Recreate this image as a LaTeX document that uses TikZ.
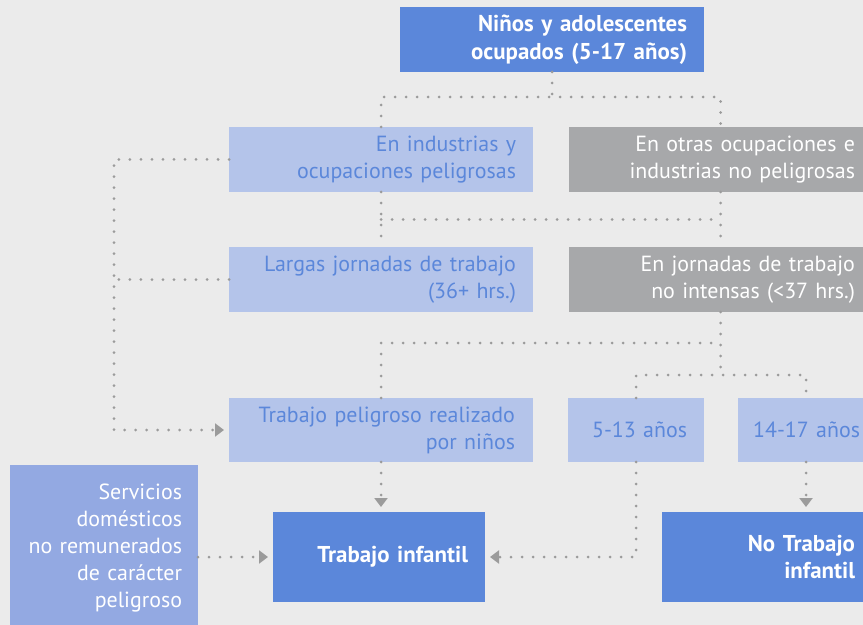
\documentclass[tikz,border=0pt]{standalone}
\usepackage{fontspec}
\setmainfont{PT Sans}
\usetikzlibrary{arrows.meta, calc, positioning}
\definecolor{fondo}{HTML}{EBEBEB}
\definecolor{azul}{HTML}{5B87DA}
\definecolor{celeste}{HTML}{B4C4EA}
\definecolor{grisbox}{HTML}{A7A8AA}
\definecolor{lila}{HTML}{93A9E2}
\definecolor{punto}{HTML}{9B9B9B}
\tikzset{
  box/.style={rectangle, inner xsep=17bp, inner ysep=0pt, outer sep=0pt, align=right, font=\fontsize{22}{27}\selectfont, minimum height=65bp},
  clara/.style={box, fill=celeste, text=azul},
  oscura/.style={box, fill=azul, text=white, font=\fontsize{23}{28}\selectfont\bfseries},
  neutra/.style={box, fill=grisbox, text=white},
  domest/.style={box, fill=lila, text=white},
  dotline/.style={draw=punto, line width=3bp, line cap=round, dash pattern=on 0pt off 11bp},
  arrowline/.style={dotline, -{Triangle[width=13bp,length=9bp]}, shorten >=5bp}
}
\begin{document}
\begin{tikzpicture}[x=1bp, y=-1bp]
  \clip (0,0) rectangle (863,625);
  \fill[fondo] (0,0) rectangle (863,625);

  \node[oscura, text width=270bp] (ninos) at (552,39.5) {Niños y adolescentes\\ocupados (5-17 años)};
  \node[clara, text width=270bp] (peligrosas) at (381,159.5) {En industrias y\\ocupaciones peligrosas};
  \node[neutra, text width=269bp] (nopeligrosas) at (720.5,159.5) {En otras ocupaciones e\\industrias no peligrosas};
  \node[clara, text width=270bp] (largas) at (381,279.5) {Largas jornadas de trabajo\\(36+ hrs.)};
  \node[neutra, text width=269bp] (nointensas) at (720.5,279.5) {En jornadas de trabajo\\no intensas (<37 hrs.)};
  \node[clara, text width=268bp, inner xsep=18bp, minimum height=64bp] (tpeligroso) at (381,430) {Trabajo peligroso realizado\\por niños};
  \node[clara, text width=102bp, minimum height=64bp] (edad1) at (636,430) {5-13 años};
  \node[clara, text width=108bp, inner xsep=14bp, minimum height=64bp] (edad2) at (806,430) {14-17 años};
  \node[domest, text width=156bp, inner xsep=16bp, minimum height=166bp] (domesticos) at (104,548) {Servicios\\domésticos\\no remunerados\\de carácter\\peligroso};
  \node[oscura, text width=178bp, minimum height=90bp] (infantil) at (379,557) {Trabajo infantil};
  \node[oscura, text width=176bp, minimum height=90bp] (noinfantil) at (767,557) {No Trabajo\\infantil};

  \draw[dotline] (ninos.south) -- ++(0,25) coordinate (r1);
  \draw[dotline] (peligrosas.north) |- (r1) -| (nopeligrosas.north);
  \draw[dotline] (peligrosas.south) -- (largas.north);
  \draw[dotline] (nopeligrosas.south) -- (nointensas.north);
  \draw[dotline] ($(peligrosas.south)!0.5!(largas.north)$) -- ($(nopeligrosas.south)!0.5!(nointensas.north)$);

  \coordinate (lft) at (114,0);
  \draw[arrowline] (peligrosas.west) -- (peligrosas.west -| lft) |- (tpeligroso.west);
  \draw[dotline] (largas.west) -- (largas.west -| lft);

  \draw[dotline] (nointensas.south) -- ++(0,31) coordinate (r2) -- ++(0,32) coordinate (r3);
  \draw[dotline] (tpeligroso.north) |- (r2);
  \draw[dotline] (edad1.north) |- (r3) -| (edad2.north);

  \draw[arrowline] (tpeligroso.south) -- (tpeligroso.south |- infantil.north);
  \draw[arrowline] (domesticos.east |- infantil.west) -- (infantil.west);
  \draw[arrowline] (edad1.south) |- (infantil.east);
  \draw[arrowline] (edad2.south) -- (edad2.south |- noinfantil.north);
\end{tikzpicture}
\end{document}
